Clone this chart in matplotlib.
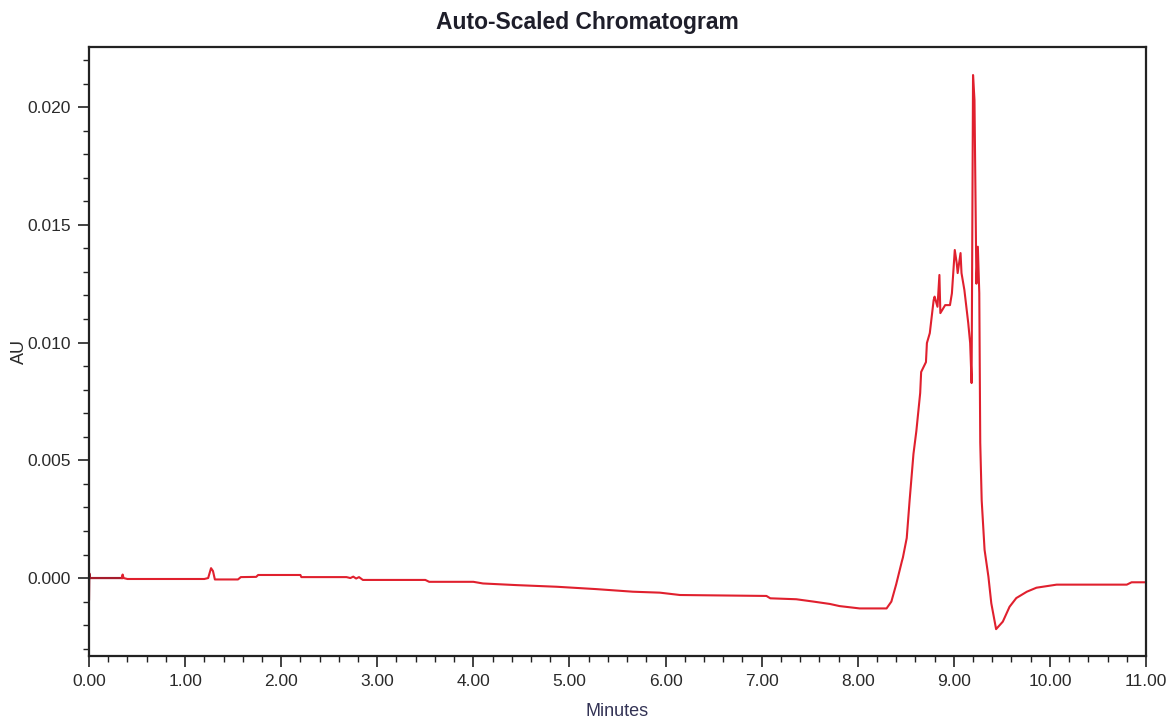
import matplotlib
matplotlib.use("Agg")
import matplotlib.pyplot as plt
from matplotlib.ticker import MultipleLocator, FormatStrFormatter

# ---------------- data ----------------
time_min = [
    0.000, 0.003, 0.010, 0.340, 0.350, 0.360, 0.400, 1.200, 1.240, 1.270,
    1.290, 1.310, 1.550, 1.580, 1.740, 1.760, 2.200, 2.210, 2.680, 2.720,
    2.750, 2.780, 2.810, 2.850, 3.500, 3.540, 4.000, 4.100, 4.450, 4.870,
    5.280, 5.660, 5.940, 6.150, 7.050, 7.090, 7.360, 7.540, 7.710, 7.810,
    8.020, 8.300, 8.350, 8.400, 8.460, 8.470, 8.510, 8.540, 8.580, 8.610,
    8.650, 8.660, 8.710, 8.720, 8.750, 8.790, 8.800, 8.830, 8.850, 8.860,
    8.910, 8.960, 8.980, 9.010, 9.030, 9.040, 9.070, 9.080, 9.110, 9.150,
    9.170, 9.185, 9.200, 9.215, 9.235, 9.250, 9.265, 9.275, 9.290, 9.320,
    9.360, 9.390, 9.440, 9.510, 9.580, 9.650, 9.760, 9.860, 10.070, 10.800,
    10.850, 11.000,
]
absorbance = [
    -0.00090, 0.00020, 0.00000, 0.00000, 0.00015, 0.00000, -0.00004, -0.00004, 0.00000, 0.00042,
    0.00030, -0.00006, -0.00006, 0.00004, 0.00005, 0.00013, 0.00013, 0.00004, 0.00004, 0.00000,
    0.00006, -0.00002, 0.00004, -0.00008, -0.00008, -0.00016, -0.00016, -0.00023, -0.00030, -0.00037,
    -0.00047, -0.00058, -0.00062, -0.00072, -0.00076, -0.00086, -0.00090, -0.00100, -0.00110, -0.00119,
    -0.00129, -0.00129, -0.00100, -0.00027, 0.00072, 0.00087, 0.00170, 0.00330, 0.00527, 0.00624,
    0.00786, 0.00875, 0.00917, 0.00998, 0.01040, 0.01180, 0.01195, 0.01152, 0.01287, 0.01125,
    0.01159, 0.01159, 0.01209, 0.01393, 0.01338, 0.01295, 0.01380, 0.01295, 0.01223, 0.01083,
    0.00998, 0.00828, 0.02136, 0.02030, 0.01250, 0.01407, 0.01210, 0.00575, 0.00330, 0.00120,
    0.00006, -0.00107, -0.00217, -0.00185, -0.00122, -0.00085, -0.00058, -0.00041, -0.00028, -0.00028,
    -0.00018, -0.00018,
]
x_major_ticks = [0, 1, 2, 3, 4, 5, 6, 7, 8, 9, 10, 11]
y_major_ticks = [0.000, 0.005, 0.010, 0.015, 0.020]
title_text = "Auto-Scaled Chromatogram"
x_label = "Minutes"
y_label = "AU"

# ---------------- fonts ----------------
plt.rcParams["font.family"] = ["Liberation Sans", "DejaVu Sans"]
tick_fs = 12.5
title_fs = 16.5

# ---------------- figure ----------------
fig = plt.figure(figsize=(11.75, 7.2), dpi=100)
ax = fig.add_axes([89 / 1175, 1 - 656 / 720, (1146 - 89) / 1175, (656 - 47) / 720])

red = "#e0202e"
dark = "#a51c2c"
n_dark = 4
ax.plot(time_min[:n_dark], absorbance[:n_dark], color=dark, lw=1.6)
ax.plot(time_min[n_dark - 1:], absorbance[n_dark - 1:], color=red, lw=1.5)

ax.set_xlim(0, 11)
ax.set_ylim(-0.00331, 0.02255)

ax.set_xticks(x_major_ticks)
ax.xaxis.set_major_formatter(FormatStrFormatter("%.2f"))
ax.xaxis.set_minor_locator(MultipleLocator(0.2))
ax.set_yticks(y_major_ticks)
ax.yaxis.set_major_formatter(FormatStrFormatter("%.3f"))
ax.yaxis.set_minor_locator(MultipleLocator(0.001))

ax.tick_params(axis="both", which="major", direction="out", length=8, width=1.2,
               colors="#222222", labelsize=tick_fs, labelcolor="#2a2a2a", pad=5)
ax.tick_params(axis="both", which="minor", direction="out", length=4, width=1.0, colors="#222222")
for s in ax.spines.values():
    s.set_linewidth(1.6)
    s.set_color("#222222")

fig.text(0.5, 1 - 22 / 720, title_text, ha="center", va="center",
         fontsize=title_fs, fontweight="bold", color="#1e1e2a")
fig.text(617 / 1175, 1 - 711 / 720, x_label, ha="center", va="center",
         fontsize=13, color="#333355")
fig.text(19 / 1175, 1 - 352 / 720, y_label, ha="center", va="center", rotation=90,
         fontsize=13, color="#2a2a2a")

fig.savefig("out.png", dpi=100, facecolor="white")
